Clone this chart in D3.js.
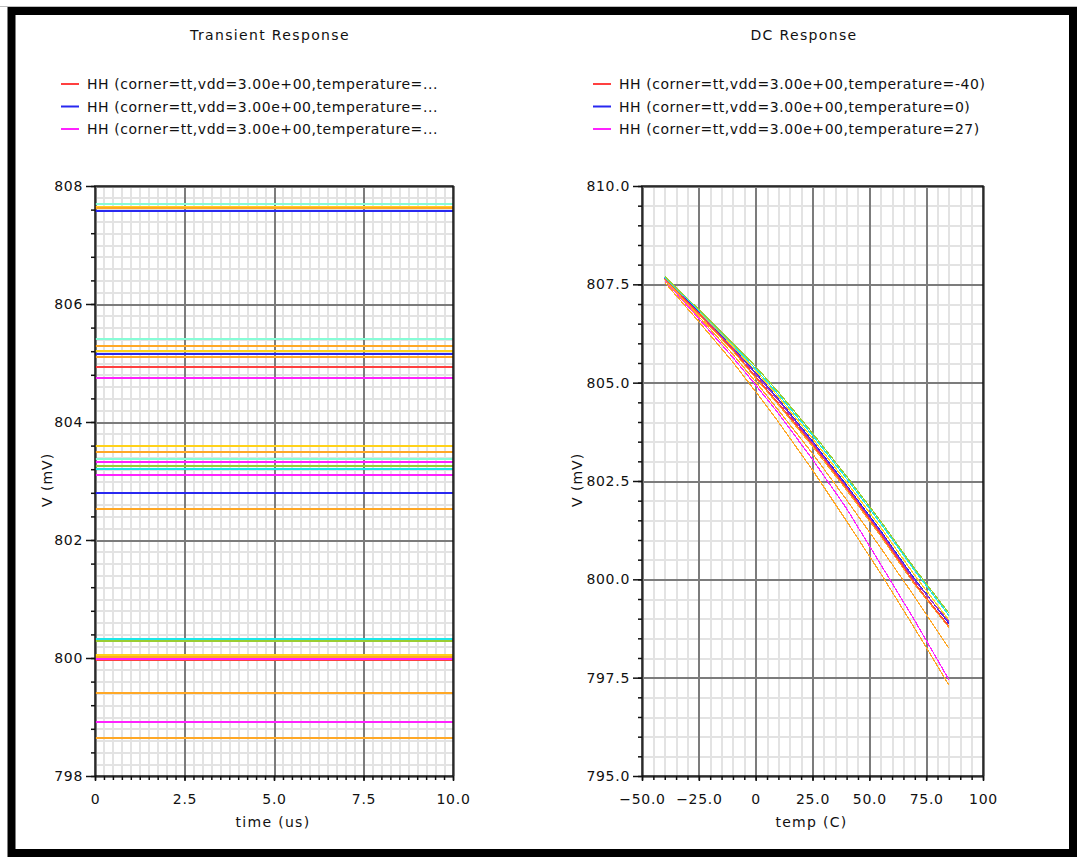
<!DOCTYPE html>
<html>
<head>
<meta charset="utf-8">
<script src="https://cdn.jsdelivr.net/npm/d3@7"></script>
<style>
  body { margin: 0; background: #fff; }
  svg { display: block; }
  text { font-family: "DejaVu Sans", "Liberation Sans", sans-serif; fill: #111; }
</style>
</head>
<body>
<svg id="chart" width="1077" height="857"></svg>
<script>
// ---------- Transient response: flat output levels (mV) over 0..10 us, grouped by trace colour ----------
const tranTime = [0, 10];
const tranAqua    = [807.70, 805.40, 803.38, 800.31];
const tranGold    = [807.65, 805.20, 803.60, 800.05];
const tranOrange  = [807.62, 805.29, 805.11, 803.50, 802.52, 800.02, 799.41, 798.65];
const tranBlue    = [807.58, 805.15, 802.79];
const tranRed     = [804.93, 799.96];
const tranMagenta = [804.75, 803.32, 803.11, 799.99, 798.92];
const tranGreen   = [803.26, 800.29];
const tranCyan    = [803.21, 800.32];

// ---------- DC response: output (mV) swept over temperature (C) ----------
const dcTemps   = [-40, -25, -10, 0, 10, 25, 40, 55, 70, 85];
const dcGreen   = [807.70, 806.86, 806.00, 805.41, 804.76, 803.72, 802.62, 801.48, 800.27, 799.14];
const dcCyan    = [807.68, 806.83, 805.96, 805.35, 804.70, 803.66, 802.56, 801.42, 800.22, 799.08];
const dcGold    = [807.67, 806.80, 805.92, 805.30, 804.64, 803.58, 802.47, 801.32, 800.10, 798.96];
const dcBlue    = [807.66, 806.78, 805.88, 805.25, 804.58, 803.51, 802.39, 801.23, 800.00, 798.88];
const dcPurple  = [807.66, 806.77, 805.87, 805.22, 804.55, 803.47, 802.35, 801.19, 799.96, 798.92];
const dcRed     = [807.65, 806.76, 805.84, 805.15, 804.48, 803.43, 802.32, 801.15, 799.90, 798.81];
const dcOrange1 = [807.63, 806.73, 805.81, 805.12, 804.44, 803.38, 802.27, 801.10, 799.86, 798.78];
const dcOrange2 = [807.62, 806.68, 805.72, 805.02, 804.30, 803.20, 802.02, 800.80, 799.55, 798.25];
const dcMagenta = [807.60, 806.63, 805.64, 804.94, 804.22, 803.05, 801.80, 800.38, 798.95, 797.45];
const dcOrange3 = [807.55, 806.55, 805.52, 804.77, 804.00, 802.78, 801.48, 800.15, 798.75, 797.31];

// ---------- Axis ticks and labels ----------
const tranXTicks  = [0, 2.5, 5, 7.5, 10];
const tranXLabels = ["0", "2.5", "5.0", "7.5", "10.0"];
const tranYTicks  = [798, 800, 802, 804, 806, 808];
const tranYLabels = ["798", "800", "802", "804", "806", "808"];
const dcXTicks  = [-50, -25, 0, 25, 50, 75, 100];
const dcXLabels = ["\u221250.0", "\u221225.0", "0", "25.0", "50.0", "75.0", "100"];
const dcYTicks  = [795, 797.5, 800, 802.5, 805, 807.5, 810];
const dcYLabels = ["795.0", "797.5", "800.0", "802.5", "805.0", "807.5", "810.0"];

const legendTran = [
  "HH (corner=tt,vdd=3.00e+00,temperature=...",
  "HH (corner=tt,vdd=3.00e+00,temperature=...",
  "HH (corner=tt,vdd=3.00e+00,temperature=..."
];
const legendDC = [
  "HH (corner=tt,vdd=3.00e+00,temperature=-40)",
  "HH (corner=tt,vdd=3.00e+00,temperature=0)",
  "HH (corner=tt,vdd=3.00e+00,temperature=27)"
];

// ---------- Colours ----------
const C = {
  red: "#ff4040", blue: "#2828f0", magenta: "#ff22ff", orange: "#ffa826",
  gold: "#ffd21a", aqua: "#86fcd6", green: "#9acd32", cyan: "#1ee8e8", purple: "#9933cc"
};
const legendColors = [C.red, C.blue, C.magenta];

const svg = d3.select("#chart");
const W = 1077, H = 857;

// page frame
svg.append("rect").attr("width", W).attr("height", H).attr("fill", "#fff");
svg.append("line").attr("x1", 0).attr("x2", W).attr("y1", 6.5).attr("y2", 6.5)
  .attr("stroke", "#bdbdbd").attr("stroke-width", 1);
svg.append("rect").attr("x", 11.5).attr("y", 11).attr("width", 1061.5).attr("height", 842)
  .attr("fill", "none").attr("stroke", "#000").attr("stroke-width", 8);

function range(start, stop, step) {
  const n = Math.round((stop - start) / step);
  return d3.range(n + 1).map(i => +(start + i * step).toFixed(6));
}

function panel(cfg) {
  const g = svg.append("g");
  const x = d3.scaleLinear().domain(cfg.xDomain).range([cfg.left, cfg.right]);
  const y = d3.scaleLinear().domain(cfg.yDomain).range([cfg.bottom, cfg.top]);
  const ph = cfg.bottom - cfg.top, pw = cfg.right - cfg.left;

  g.append("rect").attr("x", cfg.left).attr("y", cfg.top).attr("width", pw).attr("height", ph)
    .attr("fill", "#fff");

  // light grid
  const gridStyle = (sel, color, width) => {
    sel.select(".domain").remove();
    sel.selectAll(".tick line").attr("stroke", color).attr("stroke-width", width)
      .attr("shape-rendering", "crispEdges");
  };
  g.append("g").attr("transform", `translate(0,${cfg.bottom})`)
    .call(d3.axisBottom(x).tickValues(cfg.xMinorGrid).tickSize(-ph).tickFormat(""))
    .call(s => gridStyle(s, "#e3e3e3", 2));
  g.append("g").attr("transform", `translate(${cfg.left},0)`)
    .call(d3.axisLeft(y).tickValues(cfg.yMinorGrid).tickSize(-pw).tickFormat(""))
    .call(s => gridStyle(s, "#e3e3e3", 2));
  // major grid
  g.append("g").attr("transform", `translate(0,${cfg.bottom})`)
    .call(d3.axisBottom(x).tickValues(cfg.xTicks).tickSize(-ph).tickFormat(""))
    .call(s => gridStyle(s, "#7c7c7c", 2));
  g.append("g").attr("transform", `translate(${cfg.left},0)`)
    .call(d3.axisLeft(y).tickValues(cfg.yTicks).tickSize(-pw).tickFormat(""))
    .call(s => gridStyle(s, "#7c7c7c", 2));

  // traces
  const line = d3.line().x(d => x(d[0])).y(d => y(d[1]));
  cfg.series.forEach(s => {
    g.append("path").datum(s.points).attr("d", line)
      .attr("fill", "none").attr("stroke", s.color).attr("stroke-width", s.width)
      .attr("shape-rendering", "crispEdges").attr("stroke-linejoin", "miter");
  });

  // plot frame
  g.append("rect").attr("x", cfg.left).attr("y", cfg.top).attr("width", pw).attr("height", ph)
    .attr("fill", "none").attr("stroke", "#111").attr("stroke-width", 1.5);

  // minor ticks
  const tickStyle = sel => {
    sel.select(".domain").remove();
    sel.selectAll(".tick line").attr("stroke", "#111").attr("stroke-width", 1.5);
  };
  g.append("g").attr("transform", `translate(0,${cfg.bottom})`)
    .call(d3.axisBottom(x).tickValues(cfg.xMinorTicks).tickSize(4).tickFormat(""))
    .call(tickStyle);
  g.append("g").attr("transform", `translate(${cfg.left},0)`)
    .call(d3.axisLeft(y).tickValues(cfg.yMinorTicks).tickSize(4).tickFormat(""))
    .call(tickStyle);

  // labelled ticks
  const labelStyle = sel => {
    tickStyle(sel);
    sel.selectAll(".tick text").attr("fill", "#111")
      .style("font-family", '"DejaVu Sans", sans-serif').style("font-size", "14px")
      .style("letter-spacing", "0.7px");
  };
  g.append("g").attr("transform", `translate(0,${cfg.bottom})`)
    .call(d3.axisBottom(x).tickValues(cfg.xTicks).tickSize(5).tickPadding(13)
      .tickFormat((d, i) => cfg.xLabels[i]))
    .call(labelStyle);
  g.append("g").attr("transform", `translate(${cfg.left},0)`)
    .call(d3.axisLeft(y).tickValues(cfg.yTicks).tickSize(9).tickPadding(3)
      .tickFormat((d, i) => cfg.yLabels[i]))
    .call(labelStyle);

  // titles
  svg.append("text").attr("x", cfg.titleX).attr("y", 40).attr("text-anchor", "middle")
    .style("font-size", "14px").style("letter-spacing", "1.35px").text(cfg.title);
  svg.append("text").attr("x", (cfg.left + cfg.right) / 2 - 1).attr("y", 827)
    .attr("text-anchor", "middle").style("font-size", "14px").style("letter-spacing", "1.3px")
    .text(cfg.xTitle);
  svg.append("text").attr("transform", `translate(${cfg.yTitleX},480) rotate(-90)`)
    .attr("text-anchor", "middle").attr("dy", "0.35em")
    .style("font-size", "14px").style("letter-spacing", "1px").text("V (mV)");

  // legend
  const lg = svg.append("g");
  cfg.legend.forEach((t, i) => {
    const yy = 84 + i * 22.5;
    lg.append("line").attr("x1", cfg.legendX).attr("x2", cfg.legendX + 18)
      .attr("y1", yy).attr("y2", yy).attr("stroke", legendColors[i]).attr("stroke-width", 2);
    lg.append("text").attr("x", cfg.legendX + 26).attr("y", yy + 5)
      .style("font-size", "14px").style("letter-spacing", "0.55px").text(t);
  });
}

// flat transient traces
const tranGroups = [
  [tranAqua, C.aqua], [tranGold, C.gold], [tranOrange, C.orange], [tranBlue, C.blue],
  [tranRed, C.red], [tranMagenta, C.magenta], [tranGreen, C.green], [tranCyan, C.cyan]
];
const tranSeries = [];
tranGroups.forEach(([vals, color]) => vals.forEach(v =>
  tranSeries.push({ color, width: 2, points: tranTime.map(t => [t, v]) })));

// DC sweeps
const dcGroups = [
  [dcOrange3, C.orange], [dcMagenta, C.magenta], [dcOrange2, C.orange], [dcOrange1, C.orange],
  [dcGold, C.gold], [dcBlue, C.blue], [dcPurple, C.purple], [dcRed, C.red],
  [dcCyan, C.cyan], [dcGreen, C.green]
];
const dcSeries = dcGroups.map(([vals, color]) =>
  ({ color, width: 1.2, points: dcTemps.map((t, i) => [t, vals[i]]) }));

panel({
  title: "Transient Response", titleX: 270, xTitle: "time (us)", yTitleX: 47,
  left: 95, right: 453, top: 186, bottom: 776,
  xDomain: [0, 10], yDomain: [798, 808],
  xTicks: tranXTicks, xLabels: tranXLabels, yTicks: tranYTicks, yLabels: tranYLabels,
  xMinorGrid: range(0, 10, 0.25), yMinorGrid: range(798, 808, 0.2),
  xMinorTicks: range(0, 10, 0.25), yMinorTicks: range(798, 808, 0.4),
  series: tranSeries, legend: legendTran, legendX: 61
});

panel({
  title: "DC Response", titleX: 804, xTitle: "temp (C)", yTitleX: 577,
  left: 642, right: 983, top: 186, bottom: 776,
  xDomain: [-50, 100], yDomain: [795, 810],
  xTicks: dcXTicks, xLabels: dcXLabels, yTicks: dcYTicks, yLabels: dcYLabels,
  xMinorGrid: range(-50, 100, 5), yMinorGrid: range(795, 810, 0.5),
  xMinorTicks: range(-50, 100, 5), yMinorTicks: range(795, 810, 0.5),
  series: dcSeries, legend: legendDC, legendX: 593
});
</script>
</body>
</html>
